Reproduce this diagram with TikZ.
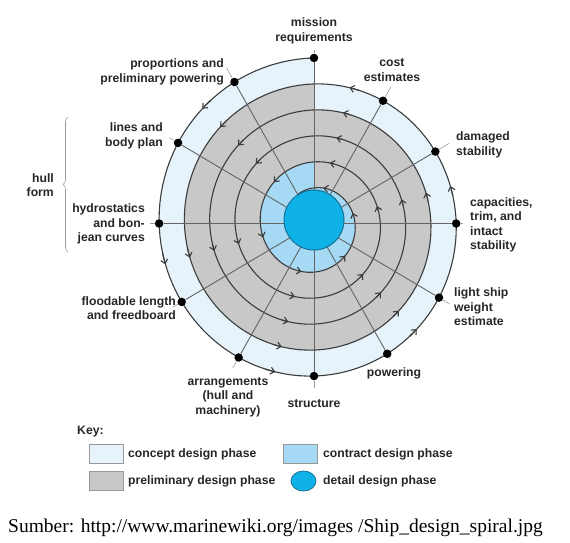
\documentclass[tikz,border=0pt]{standalone}
\usepackage{fontspec}
\setmainfont{Liberation Sans}
\newfontfamily\lblfont{Liberation Sans}
\newfontfamily\capfont{Liberation Serif}
\usetikzlibrary{arrows.meta,calc,decorations.pathreplacing,shapes.geometric}

\definecolor{conceptblue}{RGB}{230,243,251}
\definecolor{prelimgray}{RGB}{200,200,200}
\definecolor{contractblue}{RGB}{166,218,244}
\definecolor{detailblue}{RGB}{14,178,230}
\definecolor{detailedge}{RGB}{22,112,150}
\definecolor{spiralgray}{RGB}{60,60,60}
\definecolor{spokegray}{RGB}{100,100,100}

\tikzset{
  declare function={spr(\t)=161.2-0.070278*\t;
                    spx(\t)=314-spr(\t)*sin(\t);
                    spy(\t)=223.5-1.027*spr(\t)*cos(\t);},
  spiral/.style={draw=spiralgray, line width=1.1pt, line join=round},
  barb/.style={-{Straight Barb[length=4pt,width=7pt]}},
  spoke/.style={draw=spokegray, line width=0.9pt},
  dot/.style={circle, fill=black, inner sep=0pt, minimum size=8.5pt},
  leader/.style={draw=black!40, line width=0.6pt},
  lbl/.style={font=\lblfont\bfseries\fontsize{12.2}{14.5}\selectfont, text=black!85, inner sep=0pt},
  keybox/.style={draw=black!40, line width=0.6pt, minimum width=34pt, minimum height=19pt, inner sep=0pt},
}

\begin{document}
\begin{tikzpicture}[x=1pt, y=-1pt]
  \useasboundingbox (0,0) rectangle (570,543);
  \coordinate (hub) at (314,223.5);

  % Phase regions
  \fill[conceptblue] plot[domain=0:360, samples=120] ({spx(\x)},{spy(\x)}) -- cycle;
  \fill[prelimgray] plot[domain=360:720, samples=120] ({spx(\x)},{spy(\x)}) -- cycle;
  \fill[contractblue] plot[domain=1440:1800, samples=120] ({spx(\x)},{spy(\x)}) -- cycle;

  % Design spiral
  \draw[spiral] plot[domain=0:1830, samples=600] ({spx(\x)},{spy(\x)});
  \foreach \t [evaluate=\t as \ts using \t-4] in {45,105,...,1785}
    \draw[spiral, barb] plot[domain=\ts:\t, samples=3] ({spx(\x)},{spy(\x)});

  % Stations on the outer turn
  \foreach \t/\n in {0/mis, 30/prop, 60/lines, 90/hydro, 120/flood, 150/arr,
                     180/struct, 210/pow, 240/light, 270/cap, 300/dam, 330/cost}
    \node[dot] (\n) at ({spx(\t)},{spy(\t)}) {};

  % Spokes
  \foreach \n in {mis, prop, lines, hydro, flood, arr, struct, pow, light, cap, dam, cost}
    \draw[spoke] (hub) -- (\n);

  % Detail design core
  \node[circle, fill=detailblue, draw=detailedge, line width=1pt, minimum size=60pt, inner sep=0pt] (detail) at (314,220) {};

  % Leaders
  \foreach \n/\l in {mis/8, prop/16, lines/10, hydro/9, flood/10, arr/12,
                     struct/12, pow/6, light/12, cap/7, dam/16, cost/16}
    \draw[leader] (\n) -- ($(\n)!-\l pt!(hub)$);

  % Labels
  \node[lbl, align=center] (tmis) at (314,31) {mission\\requirements};
  \node[lbl, align=center] (tcost) at (392,70) {cost\\estimates};
  \node[lbl, align=right, anchor=east] (tprop) at (224,72) {proportions and\\preliminary powering};
  \node[lbl, align=right, anchor=east] (tlines) at (163,136) {lines and\\body plan};
  \node[lbl, align=right, anchor=east] (thull) at (54,185) {hull\\form};
  \node[lbl, align=right, anchor=east] (thydro) at (145,224) {hydrostatics\\and bon-\\jean curves};
  \node[lbl, align=right, anchor=east] (tflood) at (176,308) {floodable length\\and freedboard};
  \node[lbl, align=center] (tarr) at (228,397) {arrangements\\(hull and\\machinery)};
  \node[lbl] (tstruct) at (314,404) {structure};
  \node[lbl] (tpow) at (394,373) {powering};
  \node[lbl, align=left, anchor=west] (tlight) at (454,307) {light ship\\weight\\estimate};
  \node[lbl, align=left, anchor=west] (tcap) at (470,225) {capacities,\\trim, and\\intact\\stability};
  \node[lbl, align=left, anchor=west] (tdam) at (456,145) {damaged\\stability};

  % Hull form brace
  \draw[black!40, line width=0.6pt, decorate, decoration={brace, amplitude=5pt}] (68,252) -- (68,117);

  % Key
  \node[lbl, anchor=west] (tkey) at (77,432) {Key:};
  \node[keybox, fill=conceptblue] (kconcept) at (106,454) {};
  \node[lbl, anchor=west] (tconcept) at (128,454) {concept design phase};
  \node[keybox, fill=contractblue] (kcontract) at (300,454) {};
  \node[lbl, anchor=west] (tcontract) at (323,454) {contract design phase};
  \node[keybox, fill=prelimgray] (kprelim) at (106,481) {};
  \node[lbl, anchor=west] (tprelim) at (128,481) {preliminary design phase};
  \node[ellipse, fill=detailblue, draw=detailedge, line width=0.8pt, minimum width=25pt, minimum height=20pt, inner sep=0pt] (kdetail) at (303.5,481) {};
  \node[lbl, anchor=west] (tdetail) at (323,481) {detail design phase};

  % Source
  \node[anchor=west, inner sep=0pt, font=\capfont\fontsize{19.5}{22}\selectfont] (src) at (8,528)
    {Sumber: http://www.marinewiki.org/images /Ship\_design\_spiral.jpg};
\end{tikzpicture}
\end{document}
